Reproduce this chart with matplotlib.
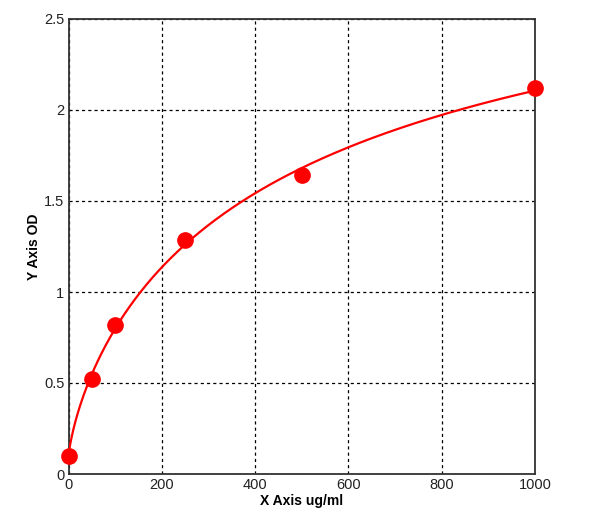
import numpy as np
import matplotlib.pyplot as plt

plt.rcParams['font.family'] = ['Liberation Sans', 'DejaVu Sans']

# standard points
conc = [0, 50, 100, 250, 500, 1000]
od = [0.10, 0.52, 0.82, 1.285, 1.645, 2.12]

x = np.array(conc, dtype=float)
y = np.array(od)

# four parameter logistic fit, crude grid search on slope and midpoint,
# linear least squares for the two asymptotes
best = None
for b in np.linspace(0.4, 1.6, 121):
    for c in np.linspace(50, 3000, 296):
        g = 1.0 / (1.0 + (x / c) ** b)
        A = np.column_stack([g, 1 - g])
        coef, res, rk, sv = np.linalg.lstsq(A, y, rcond=None)
        err = np.sum((A @ coef - y) ** 2)
        if best is None or err < best[0]:
            best = (err, b, c, coef)
_, b, c, (a, d) = best
xs = np.linspace(0, 1000, 400)
ys = d + (a - d) / (1.0 + (xs / c) ** b)

fig = plt.figure(figsize=(6, 5.21), dpi=100)
ax = fig.add_axes([68.5 / 600, 47 / 521, 466.5 / 600, 455 / 521])

ax.plot(xs, ys, color='red', lw=1.6, zorder=3)
ax.plot(conc, od, 'o', color='red', ms=11, zorder=4, clip_on=False)

ax.set_xlim(0, 1000)
ax.set_ylim(0, 2.5)
ax.set_xticks([0, 200, 400, 600, 800, 1000])
ax.set_yticks([0, 0.5, 1, 1.5, 2, 2.5])
ax.set_yticklabels(['0', '0.5', '1', '1.5', '2', '2.5'])
ax.grid(True, color='black', linestyle=(0, (2.5, 2.5)), lw=0.9)
ax.tick_params(length=0, labelsize=10.5, pad=3, colors='#222222')
for s in ax.spines.values():
    s.set_color('#333333')
    s.set_linewidth(1.3)

ax.set_xlabel('X Axis ug/ml', fontsize=10, fontweight='bold', labelpad=1)
ax.set_ylabel('Y Axis OD', fontsize=10, fontweight='bold', labelpad=2)

fig.savefig('out.png', dpi=100)
